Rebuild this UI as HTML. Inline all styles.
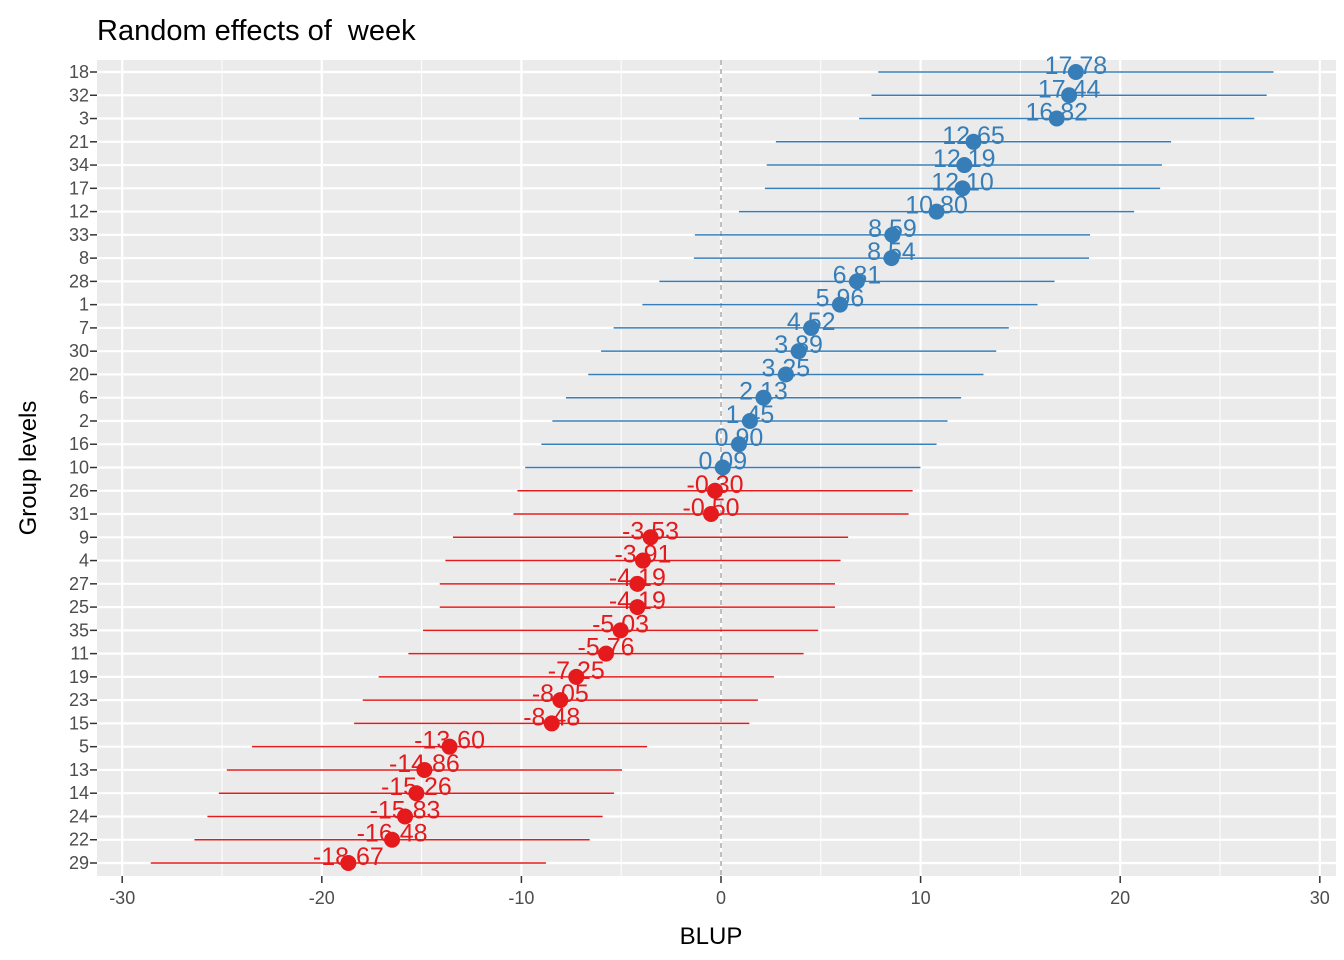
<!DOCTYPE html>
<html><head><meta charset="utf-8"><style>
body{margin:0;background:#fff}
svg{display:block;font-family:"Liberation Sans",sans-serif}
</style></head><body>
<svg id="c" width="1344" height="960">
<text x="97" y="40" font-size="29" fill="#000" xml:space="preserve" style="white-space:pre">Random effects of  week</text>
<text x="711" y="944" font-size="24" text-anchor="middle" fill="#000">BLUP</text>
<text transform="translate(36,468) rotate(-90)" font-size="24" text-anchor="middle" fill="#000">Group levels</text>
</svg>
<script>
const groups=["18","32","3","21","34","17","12","33","8","28","1","7","30","20","6","2","16","10","26","31","9","4","27","25","35","11","19","23","15","5","13","14","24","22","29"];
const blups=[17.78,17.44,16.82,12.65,12.19,12.10,10.80,8.59,8.54,6.81,5.96,4.52,3.89,3.25,2.13,1.45,0.90,0.09,-0.30,-0.50,-3.53,-3.91,-4.19,-4.19,-5.03,-5.76,-7.25,-8.05,-8.48,-13.60,-14.86,-15.26,-15.83,-16.48,-18.67];
const ciHalf=[9.9,9.9,9.9,9.9,9.9,9.9,9.9,9.9,9.9,9.9,9.9,9.9,9.9,9.9,9.9,9.9,9.9,9.9,9.9,9.9,9.9,9.9,9.9,9.9,9.9,9.9,9.9,9.9,9.9,9.9,9.9,9.9,9.9,9.9,9.9];
const xTicks=[-30,-20,-10,0,10,20,30];
const NS="http://www.w3.org/2000/svg";
const svg=document.getElementById('c');
const L=97,R=1336,T=60,B=876;
const x=v=>721+v*19.96;
const y=i=>72+i*(863-72)/(groups.length-1);
function mk(t,a,p){const e=document.createElementNS(NS,t);for(const k in a)e.setAttribute(k,a[k]);(p||svg).appendChild(e);return e;}
const bg=mk('rect',{x:L,y:T,width:R-L,height:B-T,fill:'#EBEBEB'});


for(let v=-35;v<=35;v+=5){const px=x(v);if(px<L||px>R)continue;mk('line',{x1:px,x2:px,y1:T,y2:B,stroke:'#fff','stroke-width':v%10===0?2.2:1});}
groups.forEach((g,i)=>{mk('line',{x1:L,x2:R,y1:y(i),y2:y(i),stroke:'#fff','stroke-width':2.2});
 const t=mk('text',{x:89,y:y(i)+6,'font-size':18,'text-anchor':'end',fill:'#4D4D4D'});t.textContent=g;
 
 
 mk('line',{x1:90,x2:97,y1:y(i),y2:y(i),stroke:'#333','stroke-width':1.5});});
xTicks.forEach(v=>{const t=mk('text',{x:x(v),y:904,'font-size':18,'text-anchor':'middle',fill:'#4D4D4D'});t.textContent=v;
 
 
 mk('line',{x1:x(v),x2:x(v),y1:B,y2:B+7,stroke:'#333','stroke-width':1.5});});
mk('line',{x1:x(0),x2:x(0),y1:T,y2:B,stroke:'#AAAAAA','stroke-width':1.5,'stroke-dasharray':'5,4'});
groups.forEach((g,i)=>{const v=blups[i],c=v>=0?'#377EB8':'#E41A1C';
 const ln=mk('line',{x1:x(v-ciHalf[i]),x2:x(v+ciHalf[i]),y1:y(i),y2:y(i),stroke:c,'stroke-width':1.5});
 
 
 const p=mk('circle',{cx:x(v),cy:y(i),r:8,fill:c});
 
 
 const t=mk('text',{x:x(v),y:y(i)+2,'font-size':25,'text-anchor':'middle',fill:c});t.textContent=v.toFixed(2);
 
 });
</script>
</body></html>
